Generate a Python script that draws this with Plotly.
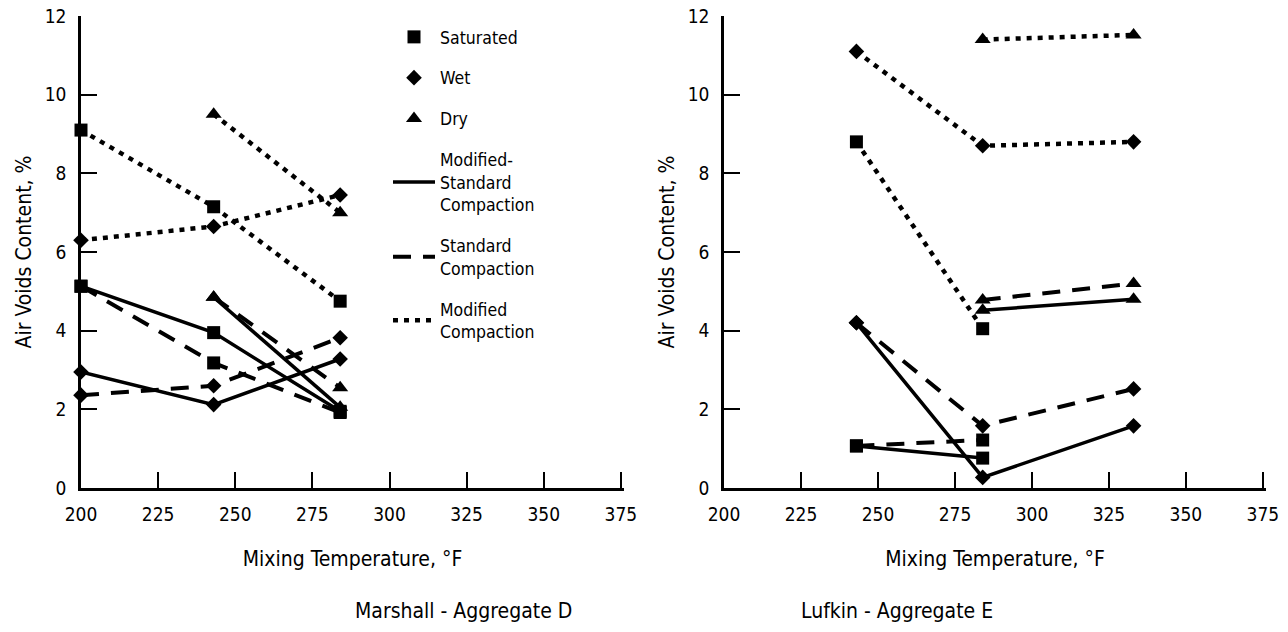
import plotly.graph_objects as go

# Mixing temperatures (°F) for each aggregate
temps_D = [200, 243, 284]
temps_E = [243, 284, 333]

# Marshall - Aggregate D, air voids (%)
sat_mod_D = [9.1, 7.15, 4.75]
wet_mod_D = [6.3, 6.65, 7.45]
dry_mod_D = [None, 9.5, 7.0]
sat_ms_D = [5.13, 3.95, 1.95]
sat_std_D = [5.13, 3.18, 1.92]
wet_ms_D = [2.95, 2.12, 3.28]
wet_std_D = [2.36, 2.6, 3.82]
dry_ms_D = [None, 4.85, 2.05]
dry_std_D = [None, 4.85, 2.55]

# Lufkin - Aggregate E, air voids (%)
sat_mod_E = [8.8, 4.05, None]
wet_mod_E = [11.1, 8.7, 8.8]
dry_mod_E = [None, 11.4, 11.52]
sat_ms_E = [1.07, 0.76, None]
sat_std_E = [1.07, 1.22, None]
wet_ms_E = [4.2, 0.27, 1.58]
wet_std_E = [4.2, 1.58, 2.52]
dry_ms_E = [None, 4.52, 4.8]
dry_std_E = [None, 4.78, 5.2]

x_ticks = [200, 225, 250, 275, 300, 325, 350, 375]
y_ticks = [0, 2, 4, 6, 8, 10, 12]

FONT = "DejaVu Sans Condensed, Liberation Sans Narrow, Arial Narrow, sans-serif"
BLACK = "#000000"

SYMBOLS = {"sat": ("square", 13), "wet": ("diamond", 12), "dry": ("triangle-up", 14)}
STYLES = {
    "ms": dict(dash="solid", width=3.5),
    "std": dict(dash="18px,12px", width=4),
    "mod": dict(dash="5px,6px", width=4.5),
}

fig = go.Figure()


def add_series(x, y, cond, style, xa, ya):
    sym, size = SYMBOLS[cond]
    fig.add_trace(go.Scatter(
        x=x, y=y, mode="lines+markers", xaxis=xa, yaxis=ya,
        line=dict(color=BLACK, **STYLES[style]),
        marker=dict(symbol=sym, size=size, color=BLACK),
        showlegend=False, hoverinfo="skip", cliponaxis=False,
    ))


panel_D = [
    (sat_mod_D, "sat", "mod"), (wet_mod_D, "wet", "mod"), (dry_mod_D, "dry", "mod"),
    (sat_std_D, "sat", "std"), (wet_std_D, "wet", "std"), (dry_std_D, "dry", "std"),
    (sat_ms_D, "sat", "ms"), (wet_ms_D, "wet", "ms"), (dry_ms_D, "dry", "ms"),
]
panel_E = [
    (sat_mod_E, "sat", "mod"), (wet_mod_E, "wet", "mod"), (dry_mod_E, "dry", "mod"),
    (sat_std_E, "sat", "std"), (wet_std_E, "wet", "std"), (dry_std_E, "dry", "std"),
    (sat_ms_E, "sat", "ms"), (wet_ms_E, "wet", "ms"), (dry_ms_E, "dry", "ms"),
]
for y, cond, style in panel_D:
    add_series(temps_D, y, cond, style, "x", "y")
for y, cond, style in panel_E:
    add_series(temps_E, y, cond, style, "x2", "y2")

# Legend entries: marker key for the moisture condition, line key for the compaction
legend_items = [
    ("Saturated", dict(mode="markers", marker=dict(symbol="square", size=13, color=BLACK))),
    ("Wet", dict(mode="markers", marker=dict(symbol="diamond", size=12, color=BLACK))),
    ("Dry", dict(mode="markers", marker=dict(symbol="triangle-up", size=14, color=BLACK))),
    ("Modified-<br>Standard<br>Compaction", dict(mode="lines", line=dict(color=BLACK, **STYLES["ms"]))),
    ("Standard<br>Compaction", dict(mode="lines", line=dict(color=BLACK, **STYLES["std"]))),
    ("Modified<br>Compaction", dict(mode="lines", line=dict(color=BLACK, **STYLES["mod"]))),
]
for i, (name, kw) in enumerate(legend_items):
    fig.add_trace(go.Scatter(x=[None], y=[None], name=name, legendgroup=f"g{i}",
                             xaxis="x", yaxis="y", **kw))

W, H = 1288, 632
y_dom = [(632 - 488) / H, (632 - 16) / H]

xaxis_common = dict(
    range=[200, 376], tickvals=x_ticks, ticks="inside", ticklen=16, tickwidth=2,
    tickcolor=BLACK, showline=True, linecolor=BLACK, linewidth=3, showgrid=False,
    zeroline=False, automargin=False,
    tickfont=dict(family=FONT, size=19, color=BLACK),
    title=dict(text="Mixing Temperature, °F", font=dict(family=FONT, size=21, color=BLACK),
               standoff=28),
    ticklabelstandoff=7,
)
yaxis_common = dict(
    range=[0, 12], tickvals=y_ticks, ticks="inside", ticklen=16, tickwidth=2,
    tickcolor=BLACK, showline=True, linecolor=BLACK, linewidth=2.5, showgrid=False,
    zeroline=False, automargin=False,
    tickfont=dict(family=FONT, size=19, color=BLACK),
    title=dict(text="Air Voids Content, %", font=dict(family=FONT, size=21, color=BLACK),
               standoff=8),
    domain=y_dom, ticklabelstandoff=8,
)

fig.update_layout(
    width=W, height=H,
    margin=dict(l=0, r=0, t=0, b=0, autoexpand=False),
    paper_bgcolor="white", plot_bgcolor="white",
    font=dict(family=FONT, color=BLACK),
    xaxis=dict(domain=[81 / W, 624 / W], anchor="y", **xaxis_common),
    yaxis=dict(anchor="x", **yaxis_common),
    xaxis2=dict(domain=[724 / W, 1266 / W], anchor="y2", **xaxis_common),
    yaxis2=dict(anchor="x2", **yaxis_common),
    showlegend=True,
    legend=dict(
        x=388 / W, y=(632 - 19) / H, xanchor="left", yanchor="top",
        bgcolor="rgba(0,0,0,0)", font=dict(family=FONT, size=17.5, color=BLACK),
        traceorder="grouped", tracegroupgap=15, itemwidth=42,
    ),
    annotations=[
        dict(text="Marshall - Aggregate D", x=(81 + 624) / 2 / W, y=(632 - 611) / H,
             xref="paper", yref="paper", showarrow=False, yanchor="middle",
             font=dict(family=FONT, size=21, color=BLACK)),
        dict(text="Lufkin - Aggregate E", x=(724 + 1266) / 2 / W, y=(632 - 611) / H,
             xref="paper", yref="paper", showarrow=False, yanchor="middle",
             font=dict(family=FONT, size=21, color=BLACK)),
    ],
)

fig.write_html("out.html")
